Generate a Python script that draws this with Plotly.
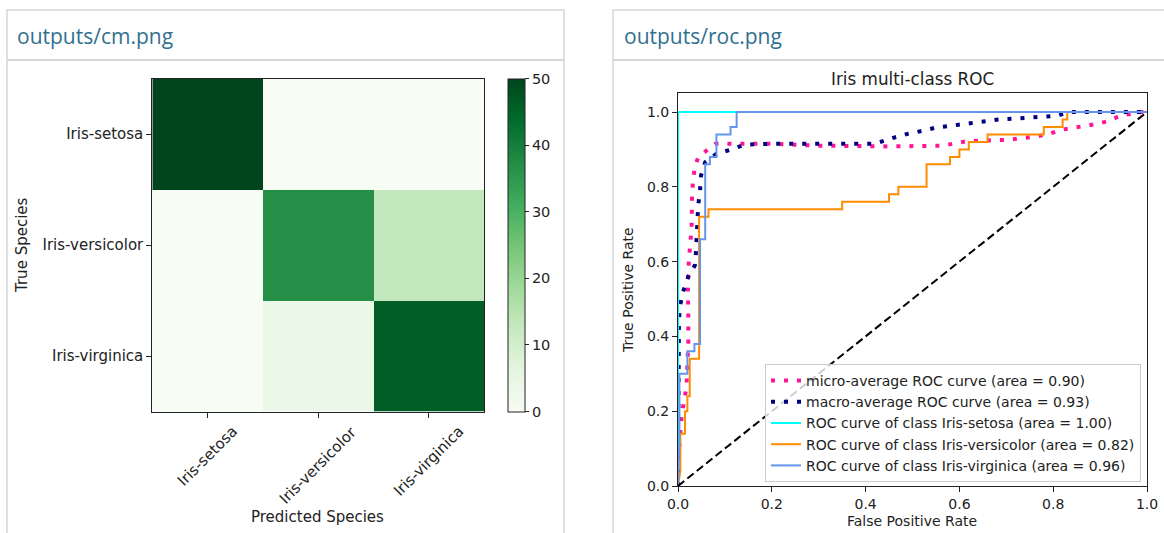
import plotly.graph_objects as go

W, H = 1164, 533

# ---------------- data ----------------
species = ["Iris-setosa", "Iris-versicolor", "Iris-virginica"]
cm_setosa = [50, 0, 0]
cm_versicolor = [0, 37, 13]
cm_virginica = [0, 4, 46]

greens_scale = [
    [0.0, "#f7fcf5"], [0.125, "#e5f5e0"], [0.25, "#c7e9c0"], [0.375, "#a1d99b"],
    [0.5, "#74c476"], [0.625, "#41ab5d"], [0.75, "#238b45"], [0.875, "#006d2c"],
    [1.0, "#00441b"],
]
cbar_ticks = [0, 10, 20, 30, 40, 50]

micro_fpr = [0, 0, 0.004, 0.008, 0.018, 0.022, 0.022, 0.021, 0.023, 0.026, 0.029, 0.03, 0.032,
             0.036, 0.043, 0.061, 0.08, 0.2, 0.3, 0.45, 0.565, 0.615, 0.708, 0.765, 0.793,
             0.815, 0.843, 0.871, 0.893, 0.921, 0.942, 0.99, 1.0]
micro_tpr = [0, 0.05, 0.13, 0.19, 0.265, 0.385, 0.465, 0.53, 0.60, 0.657, 0.692, 0.773, 0.817,
             0.853, 0.879, 0.897, 0.915, 0.915, 0.91, 0.908, 0.91, 0.922, 0.926, 0.935, 0.942,
             0.952, 0.958, 0.964, 0.968, 0.977, 0.99, 1.0, 1.0]

macro_fpr = [0, 0, 0.002, 0.004, 0.011, 0.022, 0.036, 0.038, 0.04, 0.042, 0.043, 0.047, 0.049,
             0.058, 0.082, 0.114, 0.143, 0.2, 0.42, 0.459, 0.491, 0.523, 0.552, 0.587, 0.619,
             0.651, 0.683, 0.714, 0.744, 0.775, 0.807, 0.836, 1.0]
macro_tpr = [0, 0.40, 0.44, 0.48, 0.52, 0.56, 0.59, 0.62, 0.675, 0.71, 0.75, 0.79, 0.83,
             0.866, 0.888, 0.90, 0.913, 0.915, 0.915, 0.931, 0.942, 0.95, 0.959, 0.964, 0.97,
             0.975, 0.98, 0.982, 0.985, 0.988, 0.99, 1.0, 1.0]

setosa_fpr = [0.0, 0.0, 1.0]
setosa_tpr = [0.0, 1.0, 1.0]

versicolor_fpr = [0, 0.005, 0.005, 0.015, 0.015, 0.02, 0.02, 0.025, 0.025, 0.045, 0.045, 0.065,
                  0.065, 0.35, 0.35, 0.45, 0.45, 0.47, 0.47, 0.53, 0.53, 0.58, 0.58, 0.60, 0.60,
                  0.62, 0.62, 0.66, 0.66, 0.78, 0.78, 0.82, 0.82, 0.83, 0.83, 1.0]
versicolor_tpr = [0, 0.04, 0.14, 0.14, 0.20, 0.20, 0.24, 0.24, 0.34, 0.34, 0.72, 0.72,
                  0.74, 0.74, 0.76, 0.76, 0.78, 0.78, 0.80, 0.80, 0.86, 0.86, 0.88, 0.88, 0.90,
                  0.90, 0.92, 0.92, 0.94, 0.94, 0.96, 0.96, 0.98, 0.98, 1.0, 1.0]

virginica_fpr = [0, 0.003, 0.003, 0.02, 0.02, 0.035, 0.035, 0.047, 0.047, 0.058, 0.058, 0.068,
                 0.068, 0.082, 0.082, 0.112, 0.112, 0.125, 0.125, 1.0]
virginica_tpr = [0, 0.12, 0.30, 0.30, 0.36, 0.36, 0.38, 0.38, 0.66, 0.66, 0.86, 0.86,
                 0.88, 0.88, 0.94, 0.94, 0.96, 0.96, 1.0, 1.0]

chance = [0, 1]

roc_labels = [
    "micro-average ROC curve (area = 0.90)",
    "macro-average ROC curve (area = 0.93)",
    "ROC curve of class Iris-setosa (area = 1.00)",
    "ROC curve of class Iris-versicolor (area = 0.82)",
    "ROC curve of class Iris-virginica (area = 0.96)",
]
roc_ticks = [0.0, 0.2, 0.4, 0.6, 0.8, 1.0]

# ---------------- helpers ----------------
def px(x):
    return x / W

def py(y):
    return 1 - y / H

MPL = "DejaVu Sans"
FS_L = 15     # left (confusion matrix) image text
FS_R = 14     # right (ROC) image text
TXT = "#222"

fig = go.Figure()

# ---------------- confusion matrix ----------------
fig.add_trace(go.Heatmap(
    z=[cm_setosa, cm_versicolor, cm_virginica],
    x=species, y=species,
    colorscale=greens_scale, zmin=0, zmax=50,
    xaxis="x", yaxis="y", hoverinfo="skip",
    colorbar=dict(
        x=px(508), xanchor="left", xpad=0,
        y=py(411.5), yanchor="bottom", ypad=0,
        len=333 / H, lenmode="fraction", thickness=17,
        outlinewidth=1, outlinecolor=TXT,
        tickvals=cbar_ticks, ticks="outside", ticklen=4, tickcolor=TXT,
        tickfont=dict(family=MPL, size=FS_L - 0.5, color=TXT),
    ),
))

# ---------------- ROC ----------------
roc_series = [
    (micro_fpr, micro_tpr, "#ff1493", 4, "4px,9px"),
    (macro_fpr, macro_tpr, "#000080", 4, "4px,9px"),
    (setosa_fpr, setosa_tpr, "#00ffff", 2, "solid"),
    (versicolor_fpr, versicolor_tpr, "#ff8c00", 2, "solid"),
    (virginica_fpr, virginica_tpr, "#6495ed", 2, "solid"),
]
for (fx, ty, col, lw, dash), name in zip(roc_series, roc_labels):
    fig.add_trace(go.Scatter(
        x=fx, y=ty, mode="lines", name=name,
        line=dict(color=col, width=lw, dash=dash),
        xaxis="x2", yaxis="y2", hoverinfo="skip",
    ))
fig.add_trace(go.Scatter(
    x=chance, y=chance, mode="lines", showlegend=False,
    line=dict(color="black", width=2, dash="8px,4px"),
    xaxis="x2", yaxis="y2", hoverinfo="skip",
))

def axis_common(fs):
    return dict(
        showline=True, mirror=True, linecolor=TXT, linewidth=1,
        ticks="outside", ticklen=5, tickcolor=TXT, tickwidth=1,
        showgrid=False, zeroline=False, automargin=False,
        tickfont=dict(family=MPL, size=fs, color=TXT),
    )

# ---------------- cards (page chrome) ----------------
border = "#d6d6d6"
shapes = [
    dict(type="rect", xref="paper", yref="paper", x0=px(7), x1=px(564), y0=py(545), y1=py(10),
         line=dict(color=border, width=1.5), fillcolor="rgba(0,0,0,0)", layer="below"),
    dict(type="line", xref="paper", yref="paper", x0=px(7), x1=px(564), y0=py(60), y1=py(60),
         line=dict(color=border, width=2)),
    dict(type="rect", xref="paper", yref="paper", x0=px(613), x1=px(1175), y0=py(545), y1=py(10),
         line=dict(color=border, width=1.5), fillcolor="rgba(0,0,0,0)", layer="below"),
    dict(type="line", xref="paper", yref="paper", x0=px(613), x1=px(1175), y0=py(60), y1=py(60),
         line=dict(color=border, width=2)),
]

def ann(text, x, y, size, family=MPL, color=TXT, angle=0, xanchor="center"):
    return dict(text=text, x=px(x), y=py(y), xref="paper", yref="paper", showarrow=False,
                xanchor=xanchor, yanchor="middle", textangle=angle,
                font=dict(family=family, size=size, color=color))

annotations = [
    ann("outputs/cm.png", 15, 36, 21, family="Open Sans", color="#31708f", xanchor="left"),
    ann("outputs/roc.png", 622, 36, 21, family="Open Sans", color="#31708f", xanchor="left"),
    ann("Predicted Species", 318, 517, FS_L),
    ann("True Species", 22, 245, FS_L, angle=-90),
    ann("Iris multi-class ROC", 912, 79, 16.8),
    ann("False Positive Rate", 912, 521, FS_R),
    ann("True Positive Rate", 628, 290, FS_R, angle=-90),
]
# rotated x tick labels centred under their ticks (matplotlib rotation=45, ha=center)
for sp in species:
    annotations.append(dict(
        text=sp, x=sp, xref="x", y=py(421), yref="paper", showarrow=False,
        xanchor="center", yanchor="top", textangle=-45, borderpad=0,
        font=dict(family=MPL, size=FS_L, color=TXT),
    ))

fig.update_layout(
    width=W, height=H, template="none",
    margin=dict(l=0, r=0, t=0, b=0),
    paper_bgcolor="white", plot_bgcolor="white",
    xaxis=dict(domain=[px(152.3), px(484)], anchor="y", showticklabels=False,
               **axis_common(FS_L)),
    yaxis=dict(domain=[py(411.5), py(78.5)], anchor="x", autorange="reversed",
               **axis_common(FS_L)),
    xaxis2=dict(domain=[px(678), px(1147)], anchor="y2", range=[0, 1],
                tickvals=roc_ticks, tickformat=".1f", **axis_common(FS_R)),
    yaxis2=dict(domain=[py(486), py(93.3)], anchor="x2", range=[0, 1.05],
                tickvals=roc_ticks, tickformat=".1f", **axis_common(FS_R)),
    legend=dict(
        x=px(1141), xanchor="right", y=py(482), yanchor="bottom",
        bgcolor="rgba(255,255,255,0.8)", bordercolor="#cccccc", borderwidth=1,
        font=dict(family=MPL, size=FS_R, color=TXT),
    ),
    shapes=shapes, annotations=annotations,
)

fig.write_html(
    "out.html",
    config={"displayModeBar": False},
    post_script="document.body.style.margin='0';document.body.style.overflow='hidden';",
)
